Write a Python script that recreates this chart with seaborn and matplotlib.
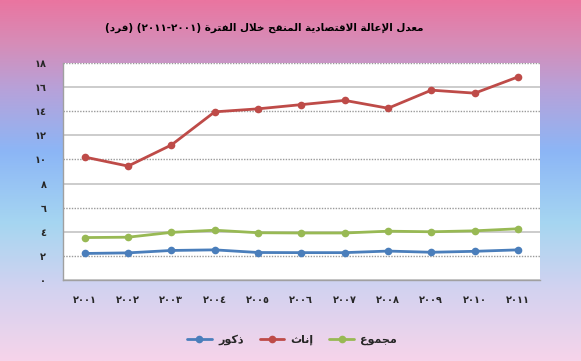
import re
import numpy as np
import pandas as pd
import matplotlib
matplotlib.use('Agg')
import matplotlib.pyplot as plt
from matplotlib.colors import LinearSegmentedColormap
from matplotlib.lines import Line2D
import seaborn as sns

# data
years = ['٢٠٠١', '٢٠٠٢', '٢٠٠٣', '٢٠٠٤', '٢٠٠٥', '٢٠٠٦',
         '٢٠٠٧', '٢٠٠٨', '٢٠٠٩', '٢٠١٠', '٢٠١١']
males = [2.2, 2.25, 2.45, 2.5, 2.28, 2.27, 2.27, 2.4, 2.3, 2.38, 2.5]
females = [10.2, 9.45, 11.2, 13.95, 14.2, 14.55, 14.9, 14.25, 15.75, 15.5, 16.85]
total = [3.52, 3.55, 3.95, 4.13, 3.92, 3.9, 3.9, 4.05, 4.0, 4.08, 4.25]
series_names = ['ذكور', 'إناث', 'مجموع']
y_ticks = [0, 2, 4, 6, 8, 10, 12, 14, 16, 18]
y_labels = ['٠', '٢', '٤', '٦', '٨', '١٠', '١٢', '١٤', '١٦', '١٨']
title = 'معدل الإعالة الاقتصادية المنقح خلال الفترة (٢٠٠١-٢٠١١) (فرد)'

# ---- minimal arabic shaping (matplotlib has no shaping / bidi) ----
FORMS = {
    'ا': (0xFE8D, 0xFE8E, None, None), 'أ': (0xFE83, 0xFE84, None, None),
    'إ': (0xFE87, 0xFE88, None, None), 'آ': (0xFE81, 0xFE82, None, None),
    'ب': (0xFE8F, 0xFE90, 0xFE91, 0xFE92), 'ة': (0xFE93, 0xFE94, None, None),
    'ت': (0xFE95, 0xFE96, 0xFE97, 0xFE98), 'ث': (0xFE99, 0xFE9A, 0xFE9B, 0xFE9C),
    'ج': (0xFE9D, 0xFE9E, 0xFE9F, 0xFEA0), 'ح': (0xFEA1, 0xFEA2, 0xFEA3, 0xFEA4),
    'خ': (0xFEA5, 0xFEA6, 0xFEA7, 0xFEA8), 'د': (0xFEA9, 0xFEAA, None, None),
    'ذ': (0xFEAB, 0xFEAC, None, None), 'ر': (0xFEAD, 0xFEAE, None, None),
    'ز': (0xFEAF, 0xFEB0, None, None), 'س': (0xFEB1, 0xFEB2, 0xFEB3, 0xFEB4),
    'ش': (0xFEB5, 0xFEB6, 0xFEB7, 0xFEB8), 'ص': (0xFEB9, 0xFEBA, 0xFEBB, 0xFEBC),
    'ض': (0xFEBD, 0xFEBE, 0xFEBF, 0xFEC0), 'ط': (0xFEC1, 0xFEC2, 0xFEC3, 0xFEC4),
    'ظ': (0xFEC5, 0xFEC6, 0xFEC7, 0xFEC8), 'ع': (0xFEC9, 0xFECA, 0xFECB, 0xFECC),
    'غ': (0xFECD, 0xFECE, 0xFECF, 0xFED0), 'ف': (0xFED1, 0xFED2, 0xFED3, 0xFED4),
    'ق': (0xFED5, 0xFED6, 0xFED7, 0xFED8), 'ك': (0xFED9, 0xFEDA, 0xFEDB, 0xFEDC),
    'ل': (0xFEDD, 0xFEDE, 0xFEDF, 0xFEE0), 'م': (0xFEE1, 0xFEE2, 0xFEE3, 0xFEE4),
    'ن': (0xFEE5, 0xFEE6, 0xFEE7, 0xFEE8), 'ه': (0xFEE9, 0xFEEA, 0xFEEB, 0xFEEC),
    'و': (0xFEED, 0xFEEE, None, None), 'ى': (0xFEEF, 0xFEF0, None, None),
    'ي': (0xFEF1, 0xFEF2, 0xFEF3, 0xFEF4),
}
LAM_ALEF = {'ا': (0xFEFB, 0xFEFC), 'أ': (0xFEF7, 0xFEF8),
            'إ': (0xFEF9, 0xFEFA), 'آ': (0xFEF5, 0xFEF6)}


def joins_left(c):
    return c in FORMS and FORMS[c][2] is not None


def shape(text):
    out = []
    i = 0
    while i < len(text):
        c = text[i]
        prev = text[i - 1] if i > 0 else ''
        prev_j = joins_left(prev)
        if c == 'ل' and i + 1 < len(text) and text[i + 1] in LAM_ALEF:
            iso, fin = LAM_ALEF[text[i + 1]]
            out.append(chr(fin if prev_j else iso))
            i += 2
            continue
        if c in FORMS:
            iso, fin, ini, med = FORMS[c]
            nxt = text[i + 1] if i + 1 < len(text) else ''
            next_j = ini is not None and nxt in FORMS
            if prev_j and next_j:
                ch = med
            elif prev_j:
                ch = fin
            elif next_j:
                ch = ini
            else:
                ch = iso
            out.append(chr(ch))
        else:
            out.append(c)
        i += 1
    shaped = ''.join(out)
    # visual order: reverse, keep digit runs left-to-right, mirror brackets
    tokens = re.findall(r'[0-9٠-٩]+|.', shaped)
    mirror = {'(': ')', ')': '('}
    return ''.join(mirror.get(t, t) for t in reversed(tokens))


# ---- data frame ----
df = pd.DataFrame({
    'x': list(range(len(years))) * 3,
    'value': males + females + total,
    'series': [series_names[0]] * len(years) + [series_names[1]] * len(years)
              + [series_names[2]] * len(years),
})
colors = {series_names[0]: '#4a7ebb', series_names[1]: '#be4b48',
          series_names[2]: '#98b954'}

sns.set_style('white')
plt.rcParams['font.family'] = ['DejaVu Sans']

fig = plt.figure(figsize=(5.81, 3.61), dpi=100)

# gradient background
bg = fig.add_axes([0, 0, 1, 1], zorder=-10)
cmap = LinearSegmentedColormap.from_list('bg', [
    (0.0, '#ea75a0'), (0.12, '#d68db8'), (0.25, '#b6a2da'),
    (0.42, '#8cb6f6'), (0.62, '#a6d6f1'), (0.8, '#d2d2f0'), (1.0, '#f6d4ea')])
bg.imshow(np.linspace(0, 1, 256).reshape(-1, 1), aspect='auto', cmap=cmap,
          extent=[0, 1, 1, 0])
bg.set_axis_off()

ax = fig.add_axes([0.1085, 0.2244, 0.8205, 0.601])
ax.set_facecolor('white')
sns.lineplot(data=df, x='x', y='value', hue='series', palette=colors,
             marker='o', markersize=5.5, markeredgewidth=0, linewidth=2,
             legend=False, ax=ax)

ax.set_xlim(-0.5, len(years) - 0.5)
ax.set_ylim(0, 18)
ax.set_yticks(y_ticks)
ax.set_yticklabels(y_labels, fontsize=7, fontweight='bold')
ax.set_xticks(range(len(years)))
ax.set_xticklabels(years, fontsize=7, fontweight='bold')
ax.set_xticks(np.arange(-0.5, len(years)), minor=True)
ax.tick_params(axis='x', which='major', length=0, pad=11)
ax.tick_params(axis='x', which='minor', length=4, color='#a0a0a0', direction='out')
ax.tick_params(axis='y', length=4, color='#a0a0a0', direction='out', pad=8)
ax.set_xlabel('')
ax.set_ylabel('')

ax.grid(axis='y', color='#c4c4c4', linewidth=1.2)
for yv, gl in zip(y_ticks, ax.yaxis.get_gridlines()):
    if yv % 4 == 2:
        gl.set_linestyle((0, (1, 1)))
        gl.set_color('#9a9a9a')
        gl.set_linewidth(1.0)

for side in ['top', 'right']:
    ax.spines[side].set_visible(False)
for side in ['left', 'bottom']:
    ax.spines[side].set_color('#a0a0a0')
    ax.spines[side].set_linewidth(1)

fig.text(0.455, 0.922, shape(title), ha='center', va='center',
         fontsize=7.5, fontweight='bold', color='black')

handles = [Line2D([], [], color=colors[n], marker='o', markersize=5.5,
                  markeredgewidth=0, linewidth=2) for n in series_names]
fig.legend(handles, [shape(n) for n in series_names], loc='center',
           bbox_to_anchor=(0.503, 0.058), ncol=3, frameon=False,
           prop={'size': 8, 'weight': 'bold'}, handlelength=2.2,
           columnspacing=1.4, handletextpad=0.6)

fig.savefig('out.png', dpi=100)
